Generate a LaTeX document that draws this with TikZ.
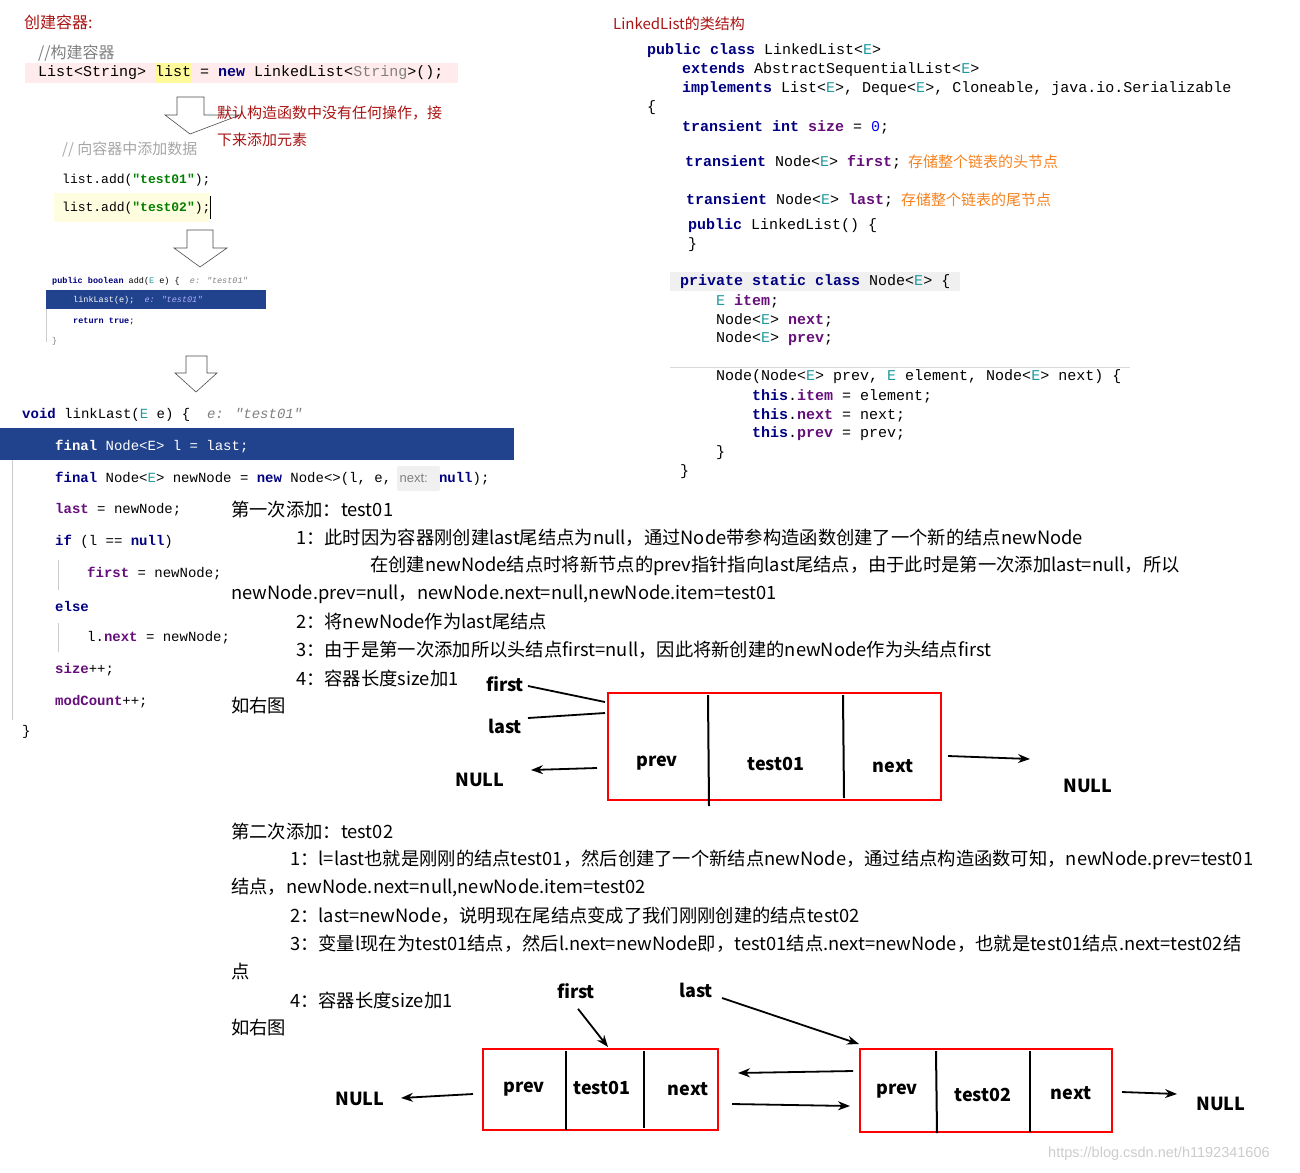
\documentclass[tikz,border=0pt]{standalone}
\usepackage{fontspec}
\usetikzlibrary{arrows.meta}
\setmainfont{Liberation Sans}
\newfontfamily\cjk{Noto Sans CJK SC}
\newfontfamily\mono{Liberation Mono}
\definecolor{kw}{RGB}{0,0,128}
\definecolor{fld}{RGB}{102,14,122}
\definecolor{str}{RGB}{0,128,0}
\definecolor{dred}{RGB}{170,20,20}
\definecolor{orng}{RGB}{245,130,30}
\definecolor{selb}{RGB}{33,66,140}
\definecolor{gcm}{RGB}{128,128,128}
\definecolor{tp}{RGB}{32,153,157}
\newcommand{\K}[1]{\textcolor{kw}{\bfseries #1}}
\newcommand{\F}[1]{\textcolor{fld}{\bfseries #1}}
\newcommand{\T}[1]{\textcolor{tp}{#1}}
\begin{document}
\begin{tikzpicture}[x=1pt,y=-1pt,
  every node/.style={inner sep=0pt,anchor=west},
  cn/.style={font=\cjk\fontsize{18.3}{18}\selectfont},
  rc/.style={font=\mono\fontsize{15}{15}\selectfont},
  lc/.style={font=\mono\fontsize{14}{14}\selectfont},
  lb/.style={font=\cjk\bfseries\fontsize{18}{18}\selectfont,anchor=center},
  box/.style={draw=red,line width=2.5pt},
  dv/.style={line width=2pt},
  ar/.style={line width=1.8pt,-{Stealth[length=12pt,width=9pt]}},
  hol/.style={draw=black!70,fill=white,line width=0.6pt}]
\useasboundingbox (0,0) rectangle (1300,1172);
% backgrounds
\fill[red!8] (25,63) rectangle (458,83);
\fill[yellow!40!white] (155,63) rectangle (191,83);
\fill[yellow!12] (54,193) rectangle (210,222);
\fill[selb] (46,290) rectangle (266,309);
\fill[selb] (0,428) rectangle (514,460);
\fill[gray!12] (670,272) rectangle (960,291);
\fill[gray!12,rounded corners=2pt] (397,466) rectangle (440,491);
\draw[gray!30] (670,367) -- (1130,367);
\draw[gray!40] (46,309) -- (46,342);
\draw[gray!40] (12,460) -- (12,720);
\draw[gray!40] (58,560) -- (58,590);
\draw[gray!40] (58,623) -- (58,652);
% hollow arrows
\draw[hol] (177,97) -- (204,97) -- (204,115) -- (240,115) -- (190,134) -- (165,115) -- (177,115) -- cycle;
\draw[hol] (187,230) -- (213,230) -- (213,248) -- (227,248) -- (200,267) -- (174,248) -- (187,248) -- cycle;
\draw[hol] (186,356) -- (207,356) -- (207,373) -- (217,373) -- (196,392) -- (175,373) -- (186,373) -- cycle;
% left top
\node[cn,text=dred] (h1) at (24,22) {\fontsize{16}{16}\selectfont 创建容器:};
\node[font=\cjk\fontsize{16}{16}\selectfont,text=gcm] (c1) at (38,53) {//构建容器};
\node[rc] (c2) at (38,73) {List<String> list = \K{new} LinkedList<\textcolor{gray}{String}>();};
\node[font=\cjk\itshape\fontsize{15}{15}\selectfont,text=gray!70] (c3) at (62,149) {// 向容器中添加数据};
\node[font=\mono\fontsize{13}{13}\selectfont] (c4) at (62,180) {list.add(\textcolor{str}{\bfseries"test01"});};
\node[font=\mono\fontsize{13}{13}\selectfont] (c5) at (62,208) {list.add(\textcolor{str}{\bfseries"test02"});};
\draw (210,196) -- (210,219);
\node[text=dred,font=\cjk\fontsize{15}{15}\selectfont] (a1) at (217,113) {默认构造函数中没有任何操作，接};
\node[text=dred,font=\cjk\fontsize{15}{15}\selectfont] (a2) at (217,140) {下来添加元素};
% small code
\node[font=\mono\fontsize{8.5}{8.5}\selectfont] (s1) at (52,281) {\K{public boolean} add(\T{E} e) \{ \ \textcolor{gray}{\itshape e: "test01"}};
\node[font=\mono\fontsize{8.5}{8.5}\selectfont,text=white] (s2) at (73,300) {linkLast(e); \ \textcolor{white!70!blue}{\itshape e: "test01"}};
\node[font=\mono\fontsize{8.5}{8.5}\selectfont] (s3) at (73,321) {\K{return true};};
\node[font=\mono\fontsize{8.5}{8.5}\selectfont,text=gray] (s4) at (52,341) {\}};
% linkLast code
\node[lc] (l0) at (22,415) {\K{void} linkLast(\T{E} e) \{ \ \textcolor{gray}{\itshape e: "test01"}};
\node[lc,text=white] (l1) at (55,447) {\textbf{final} Node<E> l = last;};
\node[lc] (l2) at (55,479) {\K{final} Node<\T{E}> newNode = \K{new} Node<>(l, e, \textcolor{gray}{\fontsize{13}{13}\selectfont\rmfamily next:} \K{null});};
\node[lc] (l3) at (55,510) {\F{last} = newNode;};
\node[lc] (l4) at (55,542) {\K{if} (l == \K{null})};
\node[lc] (l5) at (87,574) {\F{first} = newNode;};
\node[lc] (l6) at (55,606) {\K{else}};
\node[lc] (l7) at (87,638) {l.\F{next} = newNode;};
\node[lc] (l8) at (55,670) {\F{size}++;};
\node[lc] (l9) at (55,702) {\F{modCount}++;};
\node[lc] (l10) at (22,732) {\}};
% right code
\node[text=dred,font=\cjk\fontsize{15}{15}\selectfont] (r0) at (613,24) {LinkedList的类结构};
\node[rc] (r1) at (647,51) {\K{public class} LinkedList<\T{E}>};
\node[rc] (r2) at (682,70) {\K{extends} AbstractSequentialList<\T{E}>};
\node[rc] (r3) at (682,89) {\K{implements} List<\T{E}>, Deque<\T{E}>, Cloneable, java.io.Serializable};
\node[rc] (r4) at (647,108) {\{};
\node[rc] (r5) at (682,127) {\K{transient int} \F{size} = \textcolor{blue}{0};};
\node[rc] (r6) at (685,162) {\K{transient} Node<\T{E}> \F{first};};
\node[text=orng,font=\cjk\fontsize{15}{15}\selectfont] (o1) at (908,162) {存储整个链表的头节点};
\node[rc] (r7) at (686,200) {\K{transient} Node<\T{E}> \F{last};};
\node[text=orng,font=\cjk\fontsize{15}{15}\selectfont] (o2) at (901,200) {存储整个链表的尾节点};
\node[rc] (r8) at (688,226) {\K{public} LinkedList() \{};
\node[rc] (r9) at (688,245) {\}};
\node[rc] (r10) at (680,282) {\K{private static class} Node<\T{E}> \{};
\node[rc] (r11) at (716,301) {\T{E} \F{item};};
\node[rc] (r12) at (716,320) {Node<\T{E}> \F{next};};
\node[rc] (r13) at (716,339) {Node<\T{E}> \F{prev};};
\node[rc] (r14) at (716,377) {Node(Node<\T{E}> prev, \T{E} element, Node<\T{E}> next) \{};
\node[rc] (r15) at (752,396) {\K{this}.\F{item} = element;};
\node[rc] (r16) at (752,415) {\K{this}.\F{next} = next;};
\node[rc] (r17) at (752,434) {\K{this}.\F{prev} = prev;};
\node[rc] (r18) at (716,453) {\}};
\node[rc] (r19) at (680,472) {\}};
% first explanation
\node[cn] (e1) at (231,510) {第一次添加：test01};
\node[cn] (e2) at (296,538) {1：此时因为容器刚创建last尾结点为null，通过Node带参构造函数创建了一个新的结点newNode};
\node[cn] (e3) at (370,566) {在创建newNode结点时将新节点的prev指针指向last尾结点，由于此时是第一次添加last=null，所以};
\node[cn] (e4) at (231,594) {newNode.prev=null，newNode.next=null,newNode.item=test01};
\node[cn] (e5) at (296,622) {2：将newNode作为last尾结点};
\node[cn] (e6) at (296,650) {3：由于是第一次添加所以头结点first=null，因此将新创建的newNode作为头结点first};
\node[cn] (e7) at (296,678) {4：容器长度size加1};
\node[cn] (e8) at (231,706) {如右图};
% diagram 1
\draw[box] (608,693) rectangle (941,800);
\draw[dv] (708,695) -- (709,806);
\draw[dv] (843,695) -- (844,798);
\node[lb] (p1) at (657,763) {prev};
\node[lb] (v1) at (776,764) {test01};
\node[lb] (n1) at (893,766) {next};
\node[lb] (f1) at (505,684) {first};
\node[lb] (la1) at (505,726) {last};
\node[lb] (nl1) at (480,780) {NULL};
\node[lb] (nr1) at (1088,786) {NULL};
\coordinate (bx1) at (605,702);
\coordinate (bx2) at (605,713);
\coordinate (q1) at (597,768);
\coordinate (q2) at (531,770);
\coordinate (q3) at (948,756);
\coordinate (q4) at (1030,759);
\draw[line width=1.8pt] (528,686) -- (bx1);
\draw[line width=1.8pt] (528,718) -- (bx2);
\draw[ar] (q1) -- (q2);
\draw[ar] (q3) -- (q4);
% second explanation
\node[cn] (g1) at (231,832) {第二次添加：test02};
\node[cn] (g2) at (290,860) {1：l=last也就是刚刚的结点test01，然后创建了一个新结点newNode，通过结点构造函数可知，newNode.prev=test01};
\node[cn] (g3) at (231,888) {结点，newNode.next=null,newNode.item=test02};
\node[cn] (g4) at (290,916) {2：last=newNode，说明现在尾结点变成了我们刚刚创建的结点test02};
\node[cn] (g5) at (290,944) {3：变量l现在为test01结点，然后l.next=newNode即，test01结点.next=newNode，也就是test01结点.next=test02结};
\node[cn] (g6) at (231,972) {点};
\node[cn] (g7) at (290,1000) {4：容器长度size加1};
\node[cn] (g8) at (231,1028) {如右图};
% diagram 2
\draw[box] (483,1049) rectangle (718,1130);
\draw[dv] (566,1051) -- (566,1130);
\draw[dv] (644,1051) -- (644,1128);
\draw[box] (860,1049) rectangle (1112,1132);
\draw[dv] (936,1051) -- (937,1133);
\draw[dv] (1030,1051) -- (1030,1132);
\node[lb] (p2) at (524,1089) {prev};
\node[lb] (v2) at (602,1088) {test01};
\node[lb] (n2) at (688,1089) {next};
\node[lb] (p3) at (897,1091) {prev};
\node[lb] (v3) at (983,1095) {test02};
\node[lb] (n3) at (1071,1093) {next};
\node[lb] (f2) at (576,991) {first};
\node[lb] (la2) at (696,990) {last};
\node[lb] (nl2) at (360,1099) {NULL};
\node[lb] (nr2) at (1221,1104) {NULL};
\draw[ar] (f2.south) ++(2,10) -- (608,1047);
\draw[ar] (722,998) -- (859,1044);
\draw[ar] (853,1071) -- (738,1073);
\draw[ar] (732,1104) -- (850,1106);
\draw[ar] (473,1094) -- (401,1098);
\draw[ar] (1122,1092) -- (1177,1094);
\node[font=\fontsize{14.5}{14.5}\selectfont,text=gray!40] (wm) at (1048,1154) {https://blog.csdn.net/h1192341606};
\end{tikzpicture}
\end{document}
